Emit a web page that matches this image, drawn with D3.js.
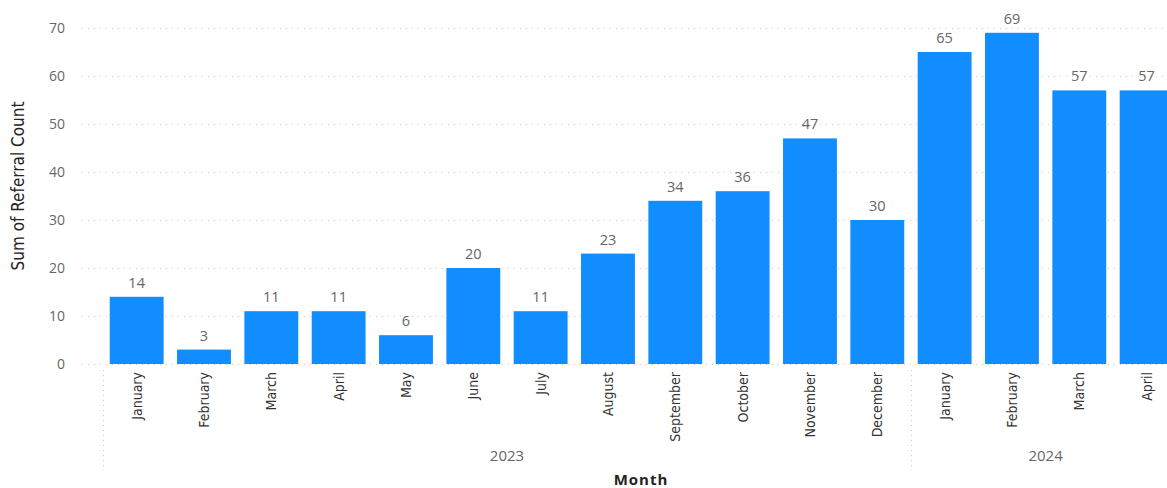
<!DOCTYPE html>
<html>
<head>
<meta charset="utf-8">
<script src="https://cdn.jsdelivr.net/npm/d3@7"></script>
<style>
  html, body { margin: 0; padding: 0; background: #fff; overflow: hidden; }
  svg { display: block; }
  .narrow { font-family: "Liberation Sans Narrow", "DejaVu Sans Condensed", "Roboto", sans-serif; }
  .ui { font-family: "Open Sans", "Noto Sans", sans-serif; }
</style>
</head>
<body>
<svg id="chart"></svg>
<script>
// data
var months = ['January', 'February', 'March', 'April', 'May', 'June', 'July', 'August',
  'September', 'October', 'November', 'December', 'January', 'February', 'March', 'April'];
var years = ['2023', '2023', '2023', '2023', '2023', '2023', '2023', '2023',
  '2023', '2023', '2023', '2023', '2024', '2024', '2024', '2024'];
var counts = [14, 3, 11, 11, 6, 20, 11, 23, 34, 36, 47, 30, 65, 69, 57, 57];
var yTicks = [0, 10, 20, 30, 40, 50, 60, 70];

var width = 1167, height = 488;
var svg = d3.select('#chart').attr('width', width).attr('height', height);

var keys = counts.map(function(d, i) { return i; });

var x = d3.scaleBand()
  .domain(keys)
  .range([103, 103 + 16 * 67.33])
  .paddingInner(0.2)
  .paddingOuter(0.1);

var y = d3.scaleLinear()
  .domain([0, 70])
  .range([364, 28]);

// gridlines
svg.append('g')
  .selectAll('line')
  .data(yTicks)
  .join('line')
  .attr('x1', 82)
  .attr('x2', width)
  .attr('y1', function(d) { return y(d) + 0.5; })
  .attr('y2', function(d) { return y(d) + 0.5; })
  .attr('stroke', '#c8c8c8')
  .attr('stroke-width', 1)
  .attr('stroke-dasharray', '1,5');

// y axis labels
var yAxis = d3.axisLeft(y).tickValues(yTicks).tickSize(0).tickPadding(0);
var gy = svg.append('g')
  .attr('transform', 'translate(65,0)')
  .call(yAxis);
gy.select('.domain').remove();
gy.selectAll('text')
  .attr('class', 'ui')
  .attr('font-size', 14)
  .attr('fill', '#666');

svg.append('text')
  .attr('class', 'narrow')
  .attr('transform', 'translate(24,186) rotate(-90)')
  .attr('text-anchor', 'middle')
  .attr('font-size', 17)
  .attr('fill', '#252423')
  .text('Sum of Referral Count');

// bars
svg.append('g')
  .selectAll('rect')
  .data(counts)
  .join('rect')
  .attr('x', function(d, i) { return x(i); })
  .attr('y', function(d) { return y(d); })
  .attr('width', x.bandwidth())
  .attr('height', function(d) { return y(0) - y(d); })
  .attr('fill', '#118DFF');

// data labels
svg.append('g')
  .selectAll('text')
  .data(counts)
  .join('text')
  .attr('class', 'ui')
  .attr('x', function(d, i) { return x(i) + x.bandwidth() / 2; })
  .attr('y', function(d) { return y(d) - 9; })
  .attr('text-anchor', 'middle')
  .attr('font-size', 14.5)
  .attr('fill', '#666')
  .text(function(d) { return d; });

// month labels
svg.append('g')
  .selectAll('text')
  .data(months)
  .join('text')
  .attr('class', 'narrow')
  .attr('transform', function(d, i) {
    return 'translate(' + (x(i) + x.bandwidth() / 2 + 5) + ',372) rotate(-90)';
  })
  .attr('text-anchor', 'end')
  .attr('font-size', 14)
  .attr('fill', '#333')
  .text(function(d) { return d; });

// year groups
var yearNames = Array.from(new Set(years));
var groups = yearNames.map(function(yr) {
  var idx = keys.filter(function(i) { return years[i] === yr; });
  var first = idx[0], last = idx[idx.length - 1];
  var pad = x.step() * x.paddingInner() / 2;
  return { year: yr, x0: x(first) - pad, x1: x(last) + x.bandwidth() + pad };
});

svg.append('g')
  .selectAll('line')
  .data(groups)
  .join('line')
  .attr('x1', function(d) { return Math.round(d.x0) + 0.5; })
  .attr('x2', function(d) { return Math.round(d.x0) + 0.5; })
  .attr('y1', 370)
  .attr('y2', 469)
  .attr('stroke', '#c8c8c8')
  .attr('stroke-dasharray', '1,4');

svg.append('text')
  .attr('class', 'ui')
  .attr('x', 641)
  .attr('y', 485)
  .attr('text-anchor', 'middle')
  .attr('font-size', 15)
  .attr('font-weight', 'bold')
  .attr('letter-spacing', 1)
  .attr('fill', '#252423')
  .text('Month');

svg.append('g')
  .selectAll('text')
  .data(groups)
  .join('text')
  .attr('class', 'ui')
  .attr('x', function(d) { return (d.x0 + d.x1) / 2; })
  .attr('y', 461)
  .attr('text-anchor', 'middle')
  .attr('font-size', 15)
  .attr('fill', '#666')
  .text(function(d) { return d.year; });
</script>
</body>
</html>
